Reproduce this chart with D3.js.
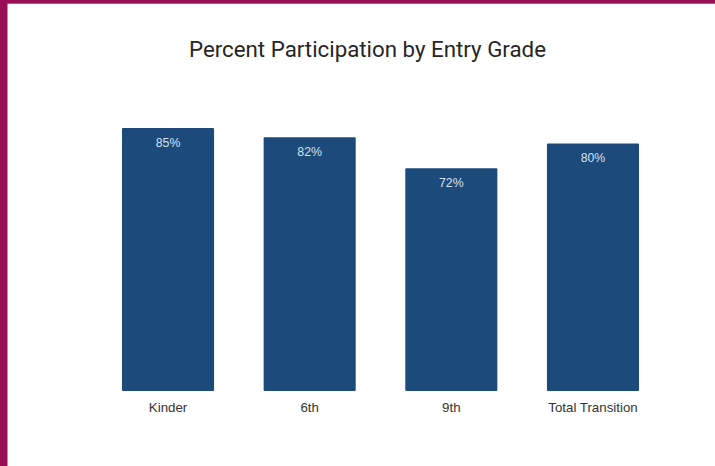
<!DOCTYPE html>
<html>
<head>
<meta charset="utf-8">
<script src="https://cdn.jsdelivr.net/npm/d3@7"></script>
<style>
  html, body { margin: 0; padding: 0; background: #fff; }
  svg { display: block; }
</style>
</head>
<body>
<svg id="chart" width="715" height="466"></svg>
<script>
// Participation by entry grade
const categories = ["Kinder", "6th", "9th", "Total Transition"];
const values = [85, 82, 72, 80];
const title = "Percent Participation by Entry Grade";

const W = 715, H = 466;
const svg = d3.select("#chart");

// page frame: maroon edge on the left and top
svg.append("rect").attr("x", 0).attr("y", 0).attr("width", W).attr("height", H).attr("fill", "#fff");
svg.append("rect").attr("x", 0).attr("y", 0).attr("width", 7.5).attr("height", H).attr("fill", "#9a0e55");
svg.append("rect").attr("x", 0).attr("y", 0).attr("width", W).attr("height", 3.7).attr("fill", "#9a0e55");

const x = d3.scaleBand()
  .domain(categories)
  .range([97.2, 663.8])
  .paddingInner(0.35)
  .paddingOuter(0.175);

const y = d3.scaleLinear().domain([0, 100]).range([391, 81.6]);

svg.append("text")
  .attr("x", 367.5)
  .attr("y", 56.5)
  .attr("text-anchor", "middle")
  .attr("font-family", "Roboto, sans-serif")
  .attr("font-size", 22.3)
  .attr("fill", "#262626")
  .text(title);

const data = categories.map((c, i) => ({ c, v: values[i] }));

svg.append("g").selectAll("rect")
  .data(data)
  .join("rect")
  .attr("x", d => x(d.c))
  .attr("y", d => y(d.v))
  .attr("width", x.bandwidth())
  .attr("height", d => y(0) - y(d.v))
  .attr("rx", 1)
  .attr("fill", "#1b4a7b");

svg.append("g").selectAll("text")
  .data(data)
  .join("text")
  .attr("x", d => x(d.c) + x.bandwidth() / 2)
  .attr("y", d => y(d.v) + 18.5)
  .attr("text-anchor", "middle")
  .attr("font-family", "'Liberation Sans', Arial, sans-serif")
  .attr("font-size", 12.3)
  .attr("fill", "#d3e2f2")
  .text(d => d.v + "%");

// category axis, labels only
const axis = svg.append("g")
  .attr("transform", `translate(0, ${y(0)})`)
  .call(d3.axisBottom(x).tickSize(0).tickPadding(11.5));
axis.select(".domain").remove();
axis.selectAll("text")
  .attr("font-family", "'Liberation Sans', Arial, sans-serif")
  .attr("font-size", 13.3)
  .attr("fill", "#333");
</script>
</body>
</html>
